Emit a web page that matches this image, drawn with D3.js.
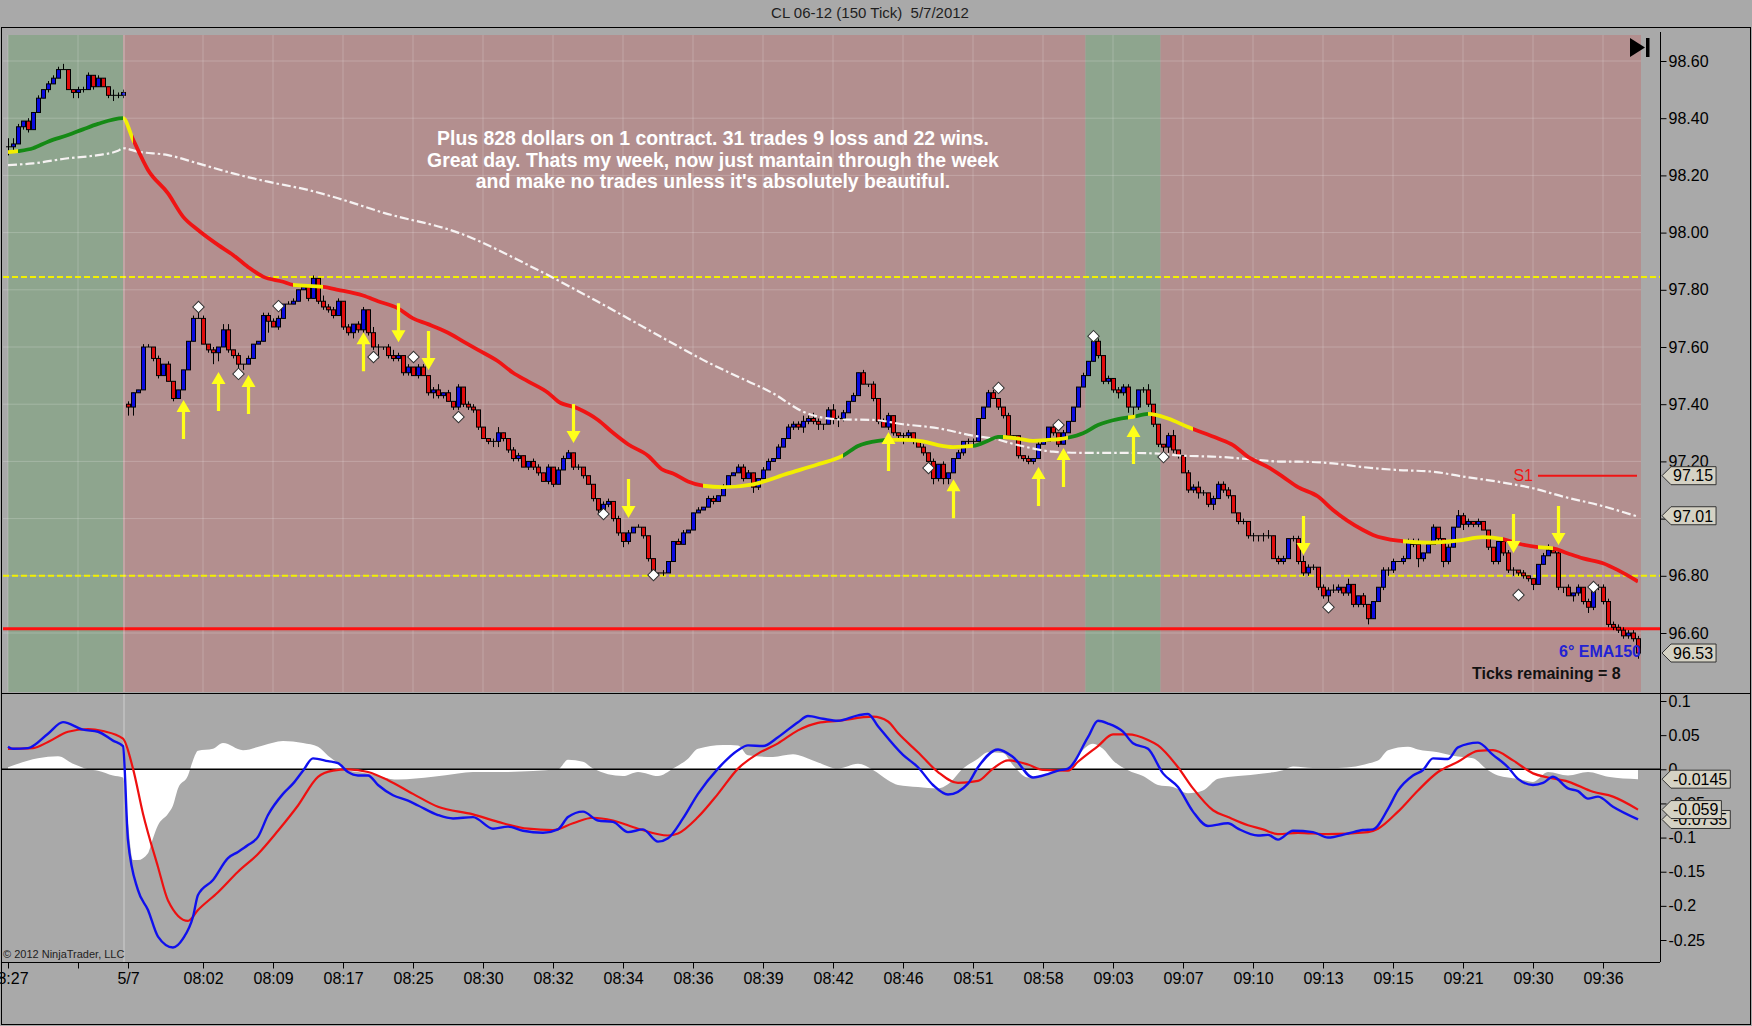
<!DOCTYPE html>
<html>
<head>
<meta charset="utf-8">
<script src="https://cdn.jsdelivr.net/npm/d3@7"></script>
<style>
    body { margin: 0; background: #a9a9a9; }
    svg { display: block; font-family: "Liberation Sans", Arial, sans-serif; }
</style>
</head>
<body>
<svg id="chart" width="1752" height="1026"></svg>
<script>
// closes of the 150 tick bars, in cents above 96.00
var closeCents = [
    230,231,237,239,236,242,247,250,252,254,257,257,250,249,250,250,255,251,254,251,248,248,248,249,
    139,144,145,160,160,156,150,154,148,142,145,152,162,170,170,161,159,158,160,166,159,157,154,154,156,161,162,171,169,167,170,175,175,176,180,181,177,184,176,174,173,171,176,
    167,165,168,166,173,165,160,160,160,157,156,157,151,153,150,153,150,144,145,143,144,141,139,146,140,139,138,132,128,127,127,130,128,124,121,122,118,120,118,116,113,118,112,117,121,123,118,118,115,112,107,103,105,106,100,95,92,95,97,97,94,86,81,81,81,85,
    92,91,95,96,102,103,104,107,106,108,111,115,116,118,114,116,111,114,117,120,121,125,128,132,133,132,134,135,134,133,133,138,135,135,137,141,143,151,147,147,142,134,132,136,130,129,129,130,127,125,123,120,114,119,114,116,121,123,127,127,127,135,139,144,142,
    139,136,129,129,122,121,120,121,126,127,132,130,126,130,134,139,146,150,155,162,157,148,149,145,144,146,139,139,145,145,140,133,126,125,129,124,122,116,110,111,109,109,105,107,112,110,108,102,99,99,94,94,94,94,94,86,85,86,93,93,85,81,83,83,76,73,
    75,75,76,74,77,70,73,70,65,71,76,82,82,85,85,86,92,91,86,88,91,97,93,85,90,97,101,98,99,98,99,96,90,85,92,88,82,82,81,80,79,77,84,87,89,88,76,76,73,74,76,71,69,76,76,71,63,62,61,59,60,58,53
];
// wick lengths above / below the body, cents, one digit per bar
var upWicks = "3210101011" + "1200111010" + "0211100110" + "1010000131" + "0102201010" + "0111101101" +
    "0102111010" + "1102101210" + "1011012010" + "1011000120" + "0110011010" + "1110100001" + "1010101000" +
    "0100110010" + "1101001110" + "0110101112" + "1210121101" + "0101011001" + "1001010100" + "1011001100" +
    "1000101001" + "0100010110" + "1011100120" + "0012001121" + "0111100101" + "0120110112" + "1101121020" +
    "0100011101" + "1120110010" + "2110100001" + "1101000121" + "1010101211" + "1111111";
var dnWicks = "3201100010" + "0002210100" + "1211330001" + "1001000000" + "1430112200" + "0040100000" +
    "1011110112" + "1111411111" + "1010121101" + "1111101221" + "1110111011" + "0001110111" + "1112100110" +
    "1100000000" + "0100000102" + "1000000112" + "1122023100" + "0011101113" + "1101121220" + "0111000011" +
    "1111110001" + "1000000011" + "1121231111" + "1321101121" + "1201101112" + "2210110111" + "1111211111" +
    "1120012101" + "0131001210" + "0211101111" + "1211120000" + "1202112111" + "1111112";
// first bar of the new session opens on its own price
var openCents = { 24: 140 };

// EMA150 [bar, price] and the colour of each stretch
var emaPts = [[0,98.281],[2,98.285],[5,98.295],[8,98.318],[12,98.341],[15,98.361],[18,98.38],[23,98.40],[25,98.326],
    [28,98.219],[32,98.137],[35,98.056],[38,98.009],[42,97.957],[45,97.922],[48,97.88],[51,97.846],[55,97.828],
    [57,97.817],[63,97.81],[66,97.80],[71,97.78],[74,97.76],[78,97.735],[81,97.70],[84,97.68],[88,97.65],[91,97.62],
    [94,97.59],[98,97.55],[101,97.51],[104,97.48],[108,97.44],[110,97.41],[114,97.385],[118,97.345],[121,97.30],
    [124,97.26],[128,97.22],[131,97.17],[133,97.158],[136,97.13],[139,97.115],[143,97.11],[149,97.12],[156,97.158],
    [162,97.19],[167,97.22],[170,97.254],[174,97.272],[176,97.275],[179,97.275],[183,97.27],[186,97.257],[189,97.25],
    [193,97.254],[196,97.272],[198,97.286],[202,97.28],[205,97.272],[208,97.275],[211,97.28],[215,97.298],[218,97.327],
    [222,97.348],[225,97.356],[228,97.366],[232,97.35],[236,97.32],[242,97.28],[245,97.257],[248,97.216],[252,97.18],
    [255,97.146],[258,97.11],[262,97.077],[265,97.03],[271,96.96],[273,96.943],[278,96.923],[284,96.916],[290,96.923],
    [295,96.935],[299,96.928],[302,96.913],[306,96.90],[309,96.896],[312,96.878],[315,96.861],[319,96.844],[322,96.82],
    [326,96.78]];
var emaColours = [[0,2,"y"],[2,23,"g"],[23,25,"y"],[25,57,"r"],[57,63,"y"],[63,139,"r"],[139,167,"y"],[167,176,"g"],
    [176,193,"y"],[193,199,"g"],[199,212,"y"],[212,224,"g"],[224,225.5,"y"],[225.5,228,"g"],[228,237,"y"],[237,279,"r"],
    [279,299,"y"],[299,306,"r"],[306,309,"y"],[309,326,"r"]];

// slow average, white dash-dot
var smaPts = [[0,98.236],[5,98.242],[12,98.26],[18,98.271],[22,98.286],[23,98.295],[26,98.283],[32,98.271],[38,98.242],
    [45,98.207],[52,98.178],[60,98.149],[66,98.12],[75,98.07],[90,98.0],[106,97.869],[118,97.758],[132,97.622],
    [139,97.555],[146,97.496],[153,97.438],[159,97.374],[166,97.347],[173,97.345],[179,97.33],[186,97.316],[193,97.29],
    [197,97.28],[202,97.257],[209,97.234],[215,97.23],[222,97.23],[229,97.228],[235,97.22],[242,97.216],[249,97.207],
    [255,97.199],[258,97.199],[265,97.193],[271,97.18],[278,97.17],[285,97.164],[291,97.147],[298,97.129],[305,97.106],
    [311,97.077],[318,97.048],[326,97.007]];

// lower panel: macd (blue), signal (red), histogram (white)
var macdPts = [[0,0.033],[1,0.030],[4,0.031],[8,0.052],[11,0.069],[15,0.058],[18,0.055],[21,0.042],[23,0.034],[24,-0.104],
    [26,-0.177],[28,-0.206],[30,-0.245],[33,-0.261],[35,-0.248],[37,-0.216],[38,-0.184],[41,-0.162],[44,-0.130],[46,-0.121],
    [48,-0.111],[50,-0.099],[52,-0.067],[55,-0.036],[57,-0.021],[59,-0.002],[61,0.016],[64,0.012],[66,0.009],[68,-0.004],
    [70,-0.009],[72,-0.009],[74,-0.023],[77,-0.038],[80,-0.046],[82,-0.053],[86,-0.067],[89,-0.072],[93,-0.070],[97,-0.087],
    [100,-0.084],[103,-0.090],[107,-0.093],[110,-0.088],[112,-0.070],[115,-0.062],[118,-0.075],[121,-0.077],[124,-0.092],
    [127,-0.088],[130,-0.106],[132,-0.101],[135,-0.072],[138,-0.036],[142,0.001],[146,0.028],[148,0.035],[151,0.034],
    [154,0.047],[158,0.069],[160,0.078],[163,0.074],[166,0.071],[170,0.079],[172,0.081],[174,0.063],[179,0.021],[182,0.003],
    [185,-0.023],[188,-0.037],[192,-0.021],[194,0.003],[198,0.029],[201,0.018],[205,-0.012],[208,-0.007],[210,-0.002],
    [212,0.001],[216,0.047],[218,0.071],[220,0.067],[223,0.055],[225,0.038],[228,0.030],[231,-0.006],[234,-0.026],
    [237,-0.062],[240,-0.083],[244,-0.079],[246,-0.087],[250,-0.097],[252,-0.096],[254,-0.103],[257,-0.090],[261,-0.092],
    [264,-0.100],[268,-0.094],[271,-0.089],[273,-0.088],[276,-0.058],[278,-0.031],[281,-0.009],[283,-0.001],[285,0.016],
    [288,0.015],[290,0.032],[294,0.039],[297,0.021],[300,0.003],[302,-0.014],[305,-0.023],[307,-0.020],[309,-0.011],
    [312,-0.028],[314,-0.032],[316,-0.043],[318,-0.040],[321,-0.055],[326,-0.0735]];
var signalPts = [[0,0.030],[5,0.031],[8,0.040],[12,0.055],[16,0.059],[19,0.056],[23,0.045],[25,0.001],[27,-0.065],
    [30,-0.143],[32,-0.192],[36,-0.222],[38,-0.206],[42,-0.180],[46,-0.150],[50,-0.124],[54,-0.090],[58,-0.053],[62,-0.011],
    [65,-0.002],[68,0.000],[72,-0.004],[76,-0.016],[81,-0.036],[86,-0.055],[93,-0.066],[98,-0.077],[104,-0.087],[109,-0.089],
    [113,-0.079],[117,-0.071],[121,-0.075],[126,-0.087],[132,-0.097],[134,-0.094],[138,-0.070],[142,-0.036],[146,0.001],
    [150,0.023],[154,0.038],[158,0.057],[162,0.068],[166,0.071],[173,0.077],[176,0.070],[178,0.053],[182,0.025],[186,-0.004],
    [190,-0.020],[194,-0.017],[197,0.001],[200,0.013],[204,0.007],[207,-0.001],[212,-0.002],[214,0.011],[218,0.034],
    [221,0.051],[224,0.051],[228,0.043],[230,0.035],[234,0.003],[237,-0.028],[241,-0.060],[244,-0.070],[248,-0.082],
    [251,-0.088],[254,-0.095],[258,-0.093],[264,-0.095],[272,-0.092],[274,-0.087],[278,-0.062],[282,-0.031],[286,-0.004],
    [290,0.011],[294,0.027],[297,0.028],[301,0.013],[305,-0.006],[308,-0.012],[312,-0.018],[317,-0.033],[321,-0.040],
    [326,-0.059]];
var histPts = [[0,0.003],[6,0.016],[10,0.019],[13,0.008],[16,0.000],[18,-0.002],[21,-0.009],[23,-0.012],[24,-0.079],
    [25,-0.133],[26,-0.133],[28,-0.123],[29,-0.101],[30,-0.082],[32,-0.065],[33,-0.053],[34,-0.028],[36,-0.009],[37,0.013],
    [38,0.027],[41,0.030],[43,0.0385],[47,0.028],[51,0.035],[55,0.0415],[59,0.0385],[62,0.033],[64,0.020],[66,0.009],
    [68,-0.0015],[72,-0.006],[78,-0.015],[85,-0.011],[90,-0.006],[93,-0.004],[98,-0.004],[110,0.000],[112,0.014],[115,0.011],
    [117,0.001],[123,-0.010],[126,-0.004],[130,-0.010],[133,0.001],[136,0.0156],[138,0.030],[143,0.0356],[146,0.035],
    [148,0.0205],[153,0.018],[157,0.022],[161,0.013],[166,0.001],[170,0.008],[173,-0.001],[176,-0.016],[178,-0.023],
    [182,-0.026],[186,-0.028],[188,-0.022],[191,0.001],[194,0.0156],[196,0.025],[199,0.024],[201,0.006],[204,-0.012],
    [206,-0.012],[209,-0.004],[212,0.001],[214,0.0205],[217,0.0375],[219,0.030],[221,0.013],[224,-0.0015],[227,-0.010],
    [230,-0.023],[233,-0.026],[236,-0.035],[239,-0.031],[242,-0.014],[246,-0.010],[251,-0.006],[255,-0.0015],[257,0.004],
    [261,0.002],[266,0.002],[274,0.013],[276,0.028],[280,0.033],[282,0.029],[286,0.025],[289,0.020],[293,0.016],
    [296,-0.0015],[298,-0.009],[302,-0.014],[305,-0.0185],[308,-0.004],[312,-0.009],[316,-0.004],[320,-0.011],[326,-0.0145]];

// trade signals: [bar, price at arrow tip]
var upArrows = [[35,97.415],[42,97.513],[48,97.502],[71,97.652],[176,97.303],[189,97.138],[206,97.18],[211,97.247],[225,97.327]];
var downArrows = [[78,97.617],[84,97.52],[113,97.264],[124,97.002],[259,96.873],[301,96.88],[310,96.908]];
var diamonds = [[38,97.74],[46,97.506],[54,97.743],[73,97.565],[81,97.565],[90,97.355],[119,97.016],[129,96.803],
    [184,97.177],[198,97.457],[210,97.327],[217,97.638],[231,97.215],[264,96.69],[302,96.733],[317,96.761]];

// sessions [fromBar, toBar, colour]
var sessions = [[0,23,"#8ea58e"],[23,215.5,"#b38f8f"],[215.5,230.5,"#8ea58e"],[230.5,326.6,"#b38f8f"]];

var yellowLevels = [97.845, 96.80];
var redLevel = 96.615;
var s1Level = 97.15;

var tickBars = [0,14,24,39,53,67,81,95,109,123,137,151,165,179,193,207,221,235,249,263,277,291,305,319];
var tickLabels = ["08:27","","5/7","08:02","08:09","08:17","08:25","08:30","08:32","08:34","08:36","08:39","08:42",
    "08:46","08:51","08:58","09:03","09:07","09:10","09:13","09:15","09:21","09:30","09:36"];
var priceTicks = [98.6,98.4,98.2,98.0,97.8,97.6,97.4,97.2,97.0,96.8,96.6];
var macdTicks = [0.1,0.05,0,-0.05,-0.1,-0.15,-0.2,-0.25];

var priceTags = [[97.15,"97.15"],[97.01,"97.01"],[96.53,"96.53"]];
var macdTags = [[-0.0735,"-0.0735"],[-0.059,"-0.059"],[-0.0145,"-0.0145"]];

var note = ["Plus 828 dollars on 1 contract. 31 trades 9 loss and 22 wins.",
    "Great day. Thats my week, now just mantain through the week",
    "and make no trades unless it's absolutely beautiful."];

(function() {
    var svg = d3.select('#chart');
    var emaCol = { y: "#f2ee00", g: "#158a15", r: "#f01414" };

    var xb = d3.scaleLinear().domain([0, 326]).range([8, 1638]);
    var yP = d3.scaleLinear().domain([96.60, 98.60]).range([633, 61]);
    var yM = d3.scaleLinear().domain([-0.25, 0.1]).range([940, 701]);

    var defs = svg.append('defs');
    defs.append('clipPath').attr('id', 'clipTop').append('rect')
        .attr('x', 3).attr('y', 33).attr('width', 1657).attr('height', 659);
    defs.append('clipPath').attr('id', 'clipLow').append('rect')
        .attr('x', 1).attr('y', 694).attr('width', 1659).attr('height', 268);

    svg.append('rect').attr('width', 1752).attr('height', 1026).attr('fill', '#a9a9a9');

    svg.append('text').attr('x', 870).attr('y', 18).attr('text-anchor', 'middle')
        .attr('font-size', 15).attr('fill', '#1e1e1e').style('white-space', 'pre')
        .text('CL 06-12 (150 Tick)  5/7/2012');

    // ---- price panel
    var top = svg.append('g').attr('clip-path', 'url(#clipTop)');

    top.selectAll('rect.sess').data(sessions).enter().append('rect')
        .attr('x', function(d) { return xb(d[0]); })
        .attr('width', function(d) { return xb(d[1]) - xb(d[0]); })
        .attr('y', 35).attr('height', 657)
        .attr('fill', function(d) { return d[2]; });

    top.selectAll('line.hgrid').data(priceTicks).enter().append('line')
        .attr('x1', 3).attr('x2', 1641)
        .attr('y1', function(d) { return yP(d); }).attr('y2', function(d) { return yP(d); })
        .attr('stroke', 'rgba(255,255,255,0.2)');
    top.selectAll('line.vgrid').data(tickBars.filter(function(b) { return b !== 24; })).enter().append('line')
        .attr('x1', function(d) { return xb(d); }).attr('x2', function(d) { return xb(d); })
        .attr('y1', 35).attr('y2', 692)
        .attr('stroke', 'rgba(255,255,255,0.2)');

    top.selectAll('line.yl').data(yellowLevels).enter().append('line')
        .attr('x1', 3).attr('x2', 1660)
        .attr('y1', function(d) { return yP(d); }).attr('y2', function(d) { return yP(d); })
        .attr('stroke', '#f2f000').attr('stroke-width', 2).attr('stroke-dasharray', '6,3');
    top.append('line').attr('x1', 3).attr('x2', 1660).attr('y1', yP(redLevel)).attr('y2', yP(redLevel))
        .attr('stroke', '#ff1010').attr('stroke-width', 3);

    var priceLine = d3.line()
        .x(function(d) { return xb(d[0]); })
        .y(function(d) { return yP(d[1]); })
        .curve(d3.curveMonotoneX);

    // candles
    var bars = closeCents.map(function(c, i) {
        var o = openCents[i] !== undefined ? openCents[i] : (i === 0 ? c : closeCents[i - 1]);
        var hi = Math.max(o, c) + (+upWicks[i]);
        var lo = Math.min(o, c) - (+dnWicks[i]);
        return { i: i, o: 96 + o / 100, c: 96 + c / 100, h: 96 + hi / 100, l: 96 + lo / 100 };
    });
    var cg = top.append('g');
    cg.selectAll('line.wick').data(bars).enter().append('line')
        .attr('x1', function(d) { return xb(d.i) + 0.5; }).attr('x2', function(d) { return xb(d.i) + 0.5; })
        .attr('y1', function(d) { return yP(d.h); }).attr('y2', function(d) { return yP(d.l); })
        .attr('stroke', '#000');
    cg.selectAll('rect.body').data(bars.filter(function(d) { return d.o !== d.c; })).enter().append('rect')
        .attr('x', function(d) { return xb(d.i) - 1.5; })
        .attr('width', 4)
        .attr('y', function(d) { return yP(Math.max(d.o, d.c)); })
        .attr('height', function(d) { return Math.abs(yP(d.o) - yP(d.c)); })
        .attr('fill', function(d) { return d.c > d.o ? '#0a0ae0' : '#e00c0c'; })
        .attr('stroke', '#000').attr('stroke-width', 1);
    cg.selectAll('line.doji').data(bars.filter(function(d) { return d.o === d.c; })).enter().append('line')
        .attr('x1', function(d) { return xb(d.i) - 2; }).attr('x2', function(d) { return xb(d.i) + 3; })
        .attr('y1', function(d) { return yP(d.c); }).attr('y2', function(d) { return yP(d.c); })
        .attr('stroke', '#000');

    top.append('path').datum(smaPts).attr('d', priceLine)
        .attr('fill', 'none').attr('stroke', '#f6f2f2').attr('stroke-width', 2.2)
        .attr('stroke-dasharray', '9,3,2.5,3');

    emaColours.forEach(function(s, k) {
        defs.append('clipPath').attr('id', 'ema' + k).append('rect')
            .attr('x', xb(s[0])).attr('width', xb(s[1]) - xb(s[0]))
            .attr('y', 30).attr('height', 665);
        top.append('g').attr('clip-path', 'url(#ema' + k + ')')
            .append('path').datum(emaPts).attr('d', priceLine)
            .attr('fill', 'none').attr('stroke', emaCol[s[2]]).attr('stroke-width', 3.8);
    });

    top.selectAll('path.dia').data(diamonds).enter().append('path')
        .attr('d', d3.symbol(d3.symbolSquare, 66))
        .attr('transform', function(d) { return 'translate(' + (xb(d[0]) + 0.5) + ',' + yP(d[1]) + ') rotate(45)'; })
        .attr('fill', '#fff').attr('stroke', '#333').attr('stroke-width', 1);

    function arrowPath(x, y, dir) {
        // dir = 1 points up (tip on top), -1 points down
        var h = 12 * dir, len = 39 * dir;
        return 'M' + x + ',' + y + 'L' + (x + 7) + ',' + (y + h) + 'L' + (x + 1.6) + ',' + (y + h) +
            'L' + (x + 1.6) + ',' + (y + len) + 'L' + (x - 1.6) + ',' + (y + len) + 'L' + (x - 1.6) + ',' + (y + h) +
            'L' + (x - 7) + ',' + (y + h) + 'Z';
    }
    top.selectAll('path.up').data(upArrows).enter().append('path')
        .attr('d', function(d) { return arrowPath(xb(d[0]) + 0.5, yP(d[1]), 1); })
        .attr('fill', '#ffff1a');
    top.selectAll('path.down').data(downArrows).enter().append('path')
        .attr('d', function(d) { return arrowPath(xb(d[0]) + 0.5, yP(d[1]), -1); })
        .attr('fill', '#ffff1a');

    // S1 pivot
    top.append('line').attr('x1', 1538).attr('x2', 1637).attr('y1', yP(s1Level)).attr('y2', yP(s1Level))
        .attr('stroke', '#f01414').attr('stroke-width', 2);
    top.append('text').attr('x', 1533).attr('y', yP(s1Level) + 5).attr('text-anchor', 'end')
        .attr('font-size', 16).attr('fill', '#f01414').text('S1');

    top.selectAll('text.note').data(note).enter().append('text')
        .attr('x', 713).attr('y', function(d, i) { return 145 + i * 21.5; })
        .attr('text-anchor', 'middle').attr('font-size', 19.4).attr('font-weight', 'bold')
        .attr('fill', '#fff').text(function(d) { return d; });

    top.append('text').attr('x', 1641).attr('y', 657).attr('text-anchor', 'end')
        .attr('font-size', 16).attr('font-weight', 'bold').attr('fill', '#2222d4').text('6\u00b0 EMA150');
    top.append('text').attr('x', 1472).attr('y', 679)
        .attr('font-size', 16).attr('font-weight', 'bold').attr('fill', '#111').text('Ticks remaining = 8');

    // scroll-to-end button
    top.append('path').attr('d', 'M1630,38L1645,47.5L1630,57Z').attr('fill', '#000');
    top.append('rect').attr('x', 1646).attr('y', 38).attr('width', 3.5).attr('height', 19).attr('fill', '#000');

    // ---- indicator panel
    var low = svg.append('g').attr('clip-path', 'url(#clipLow)');
    var mx = function(d) { return xb(d[0]); };
    low.append('path').datum(histPts)
        .attr('d', d3.area().x(mx).y0(yM(0)).y1(function(d) { return yM(d[1]); }).curve(d3.curveMonotoneX))
        .attr('fill', '#fff');
    low.append('line').attr('x1', xb(23) + 1).attr('x2', xb(23) + 1).attr('y1', 694).attr('y2', 962)
        .attr('stroke', 'rgba(255,255,255,0.45)');
    low.append('line').attr('x1', 1).attr('x2', 1660).attr('y1', yM(0)).attr('y2', yM(0))
        .attr('stroke', '#000').attr('stroke-width', 1.5);
    var mLine = d3.line().x(mx).y(function(d) { return yM(d[1]); }).curve(d3.curveMonotoneX);
    low.append('path').datum(signalPts).attr('d', mLine)
        .attr('fill', 'none').attr('stroke', '#ee1010').attr('stroke-width', 2.2);
    low.append('path').datum(macdPts).attr('d', mLine)
        .attr('fill', 'none').attr('stroke', '#1010ee').attr('stroke-width', 2.4);
    low.append('text').attr('x', 3).attr('y', 958).attr('font-size', 11).attr('fill', '#222')
        .text('\u00a9 2012 NinjaTrader, LLC');

    // session break line in price panel
    top.append('line').attr('x1', xb(23) + 1).attr('x2', xb(23) + 1).attr('y1', 35).attr('y2', 692)
        .attr('stroke', 'rgba(255,255,255,0.4)');

    // ---- frame and axes
    svg.append('rect').attr('x', 1.5).attr('y', 27.5).attr('width', 1749).attr('height', 997)
        .attr('fill', 'none').attr('stroke', '#000');
    svg.append('line').attr('x1', 1).attr('x2', 1751).attr('y1', 693.5).attr('y2', 693.5).attr('stroke', '#000');
    svg.append('line').attr('x1', 1).attr('x2', 1660).attr('y1', 962.5).attr('y2', 962.5).attr('stroke', '#000');
    svg.append('line').attr('x1', 1660.5).attr('x2', 1660.5).attr('y1', 32).attr('y2', 962).attr('stroke', '#000');

    var ay = svg.append('g').attr('transform', 'translate(1660.5,0)')
        .call(d3.axisRight(yP).tickValues(priceTicks).tickSize(6).tickPadding(2).tickFormat(d3.format('.2f')));
    var am = svg.append('g').attr('transform', 'translate(1660.5,0)')
        .call(d3.axisRight(yM).tickValues(macdTicks).tickSize(6).tickPadding(2)
            .tickFormat(function(d) { return String(+d.toFixed(2)); }));
    var ax = svg.append('g').attr('transform', 'translate(0,962.5)')
        .call(d3.axisBottom(xb).tickValues(tickBars).tickSize(6).tickPadding(4)
            .tickFormat(function(d, i) { return tickLabels[i]; }));
    [ay, am, ax].forEach(function(a) {
        a.select('.domain').remove();
        a.selectAll('line').attr('stroke', '#000');
        a.selectAll('text').attr('font-size', 16).attr('fill', '#000')
            .attr('font-family', '"Liberation Sans", Arial, sans-serif');
    });

    function tag(y, label) {
        var g = svg.append('g');
        var t = g.append('text').attr('x', 1673).attr('y', y).attr('dy', '0.36em')
            .attr('font-size', 16).attr('fill', '#000').text(label);
        var w = t.node().getComputedTextLength();
        g.insert('path', 'text')
            .attr('d', 'M1662,' + y + 'L1671,' + (y - 9) + 'L' + (1676 + w) + ',' + (y - 9) +
                'L' + (1676 + w) + ',' + (y + 9) + 'L1671,' + (y + 9) + 'Z')
            .attr('fill', '#d5d2c4').attr('stroke', '#333').attr('stroke-width', 1);
    }
    priceTags.forEach(function(d) { tag(yP(d[0]), d[1]); });
    macdTags.forEach(function(d) { tag(yM(d[0]), d[1]); });
})();
</script>
</body>
</html>
